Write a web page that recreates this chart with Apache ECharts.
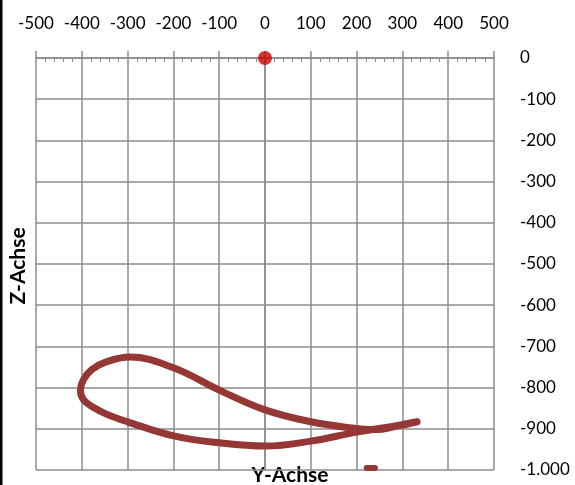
<!DOCTYPE html>
<html>
<head>
<meta charset="utf-8">
<script src="https://cdn.jsdelivr.net/npm/echarts@6/dist/echarts.min.js"></script>
<style>html,body{margin:0;padding:0;background:#fff}#c{width:575px;height:485px}</style>
</head>
<body>
<div id="c"></div>
<script>
// Profile (airfoil) coordinates: Y-Achse values and Z-Achse values
const profileY = [332, 290, 240, 190, 100, 0, -100, -200, -295, -348, -378, -396, -403, -396, -376, -345, -300, -200, -100, 0, 100, 200, 290, 332];
const profileZ = [-883, -893, -902, -898, -883, -854, -806, -752, -726, -738, -756, -780, -807, -830, -847, -865, -883, -917, -934, -942, -930, -908, -892, -883];
const originY = [0];
const originZ = [0];
const dashY = [222, 240];
const dashZ = [-995, -995];
const xTicks = [-500, -400, -300, -200, -100, 0, 100, 200, 300, 400, 500];
const zTicks = [0, -100, -200, -300, -400, -500, -600, -700, -800, -900, -1000];

const zip = (a, b) => a.map((v, i) => [v, b[i]]);
const fmtDe = v => {
  const s = Math.abs(v).toString().replace(/\B(?=(\d{3})+(?!\d))/g, '.');
  return (v < 0 ? '-' : '') + s;
};
const FONT = 'Lato';
const GRID = '#8c8c8c';

const chart = echarts.init(document.getElementById('c'), null, {renderer: 'canvas'});
chart.setOption({
  animation: false,
  backgroundColor: '#fff',
  grid: {left: 36, right: 81, top: 58, bottom: 15, containLabel: false},
  xAxis: [{
    type: 'value', position: 'top', min: xTicks[0], max: xTicks[xTicks.length - 1], interval: 100,
    axisLine: {show: true, lineStyle: {color: GRID, width: 1.5}},
    axisTick: {show: true, inside: false, length: 7, lineStyle: {color: GRID, width: 1.5}},
    minorTick: {show: false},
    axisLabel: {margin: 26, color: '#000', fontFamily: FONT, fontSize: 17, formatter: v => fmtDe(v)},
    splitLine: {show: true, lineStyle: {color: GRID, width: 1.5}}
  }, {
    type: 'value', position: 'top', min: xTicks[0], max: xTicks[xTicks.length - 1], interval: 100,
    axisLine: {show: false},
    axisTick: {show: false, inside: true},
    minorTick: {show: true, splitNumber: 5, length: 4, lineStyle: {color: GRID, width: 1}},
    axisLabel: {show: false},
    splitLine: {show: false}
  }],
  yAxis: {
    type: 'value', position: 'right', min: zTicks[zTicks.length - 1], max: zTicks[0], interval: 100,
    axisLine: {show: true, lineStyle: {color: GRID, width: 1.5}},
    axisTick: {show: false},
    axisLabel: {margin: 26, color: '#000', fontFamily: FONT, fontSize: 17, formatter: v => fmtDe(v)},
    splitLine: {show: true, lineStyle: {color: GRID, width: 1.5}}
  },
  graphic: [
    {type: 'rect', left: 0, top: 0, shape: {x: 0, y: 0, width: 2.5, height: 485}, style: {fill: '#000'}},
    {type: 'text', x: 18, y: 266, rotation: Math.PI / 2, style: {text: 'Z-Achse', fontFamily: FONT, fontWeight: 'bold', fontSize: 21, fill: '#000', align: 'center', verticalAlign: 'middle'}},
    {type: 'text', x: 290, y: 475, style: {text: 'Y-Achse', fontFamily: FONT, fontWeight: 'bold', fontSize: 21, fill: '#000', align: 'center', verticalAlign: 'middle'}}
  ],
  series: [{
    type: 'line', data: zip(profileY, profileZ), smooth: 0.4, showSymbol: false, clip: false,
    lineStyle: {color: '#953735', width: 7, cap: 'round', join: 'round'}
  }, {
    type: 'line', data: zip(dashY, dashZ), showSymbol: false, clip: false,
    lineStyle: {color: '#953735', width: 6, cap: 'round'}
  }, {
    type: 'scatter', data: zip(originY, originZ), symbolSize: 14, clip: false,
    itemStyle: {color: '#cc0000'}, z: 5
  }]
});
</script>
</body>
</html>
